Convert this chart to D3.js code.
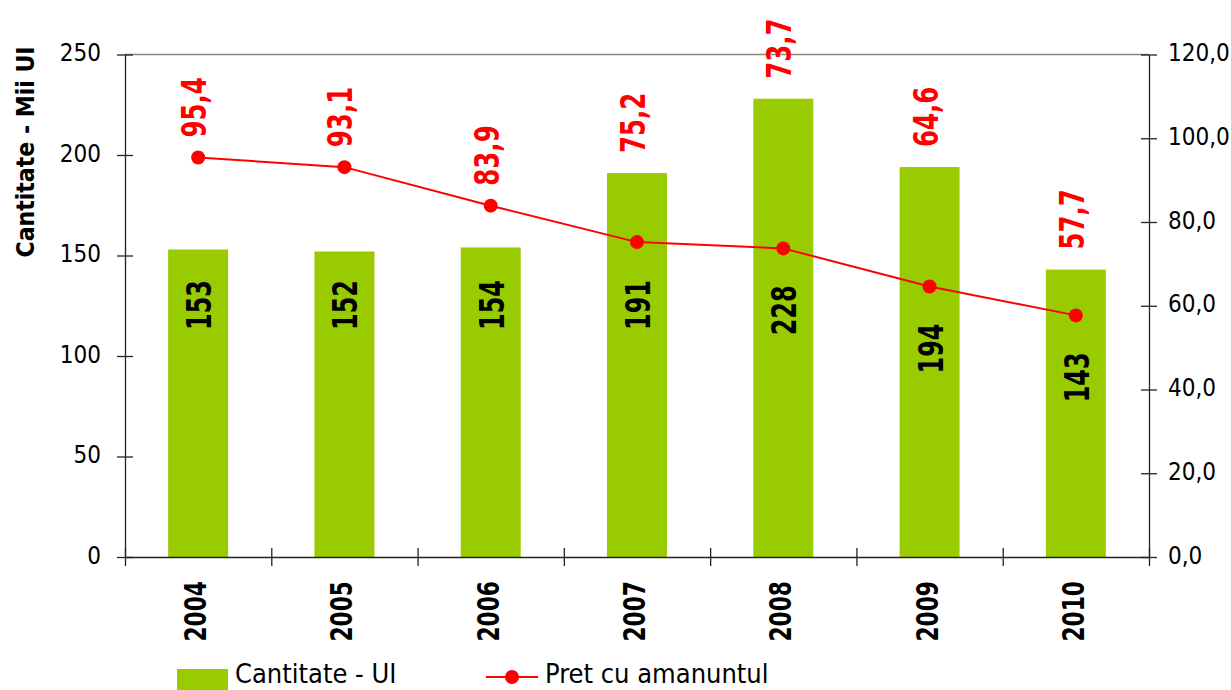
<!DOCTYPE html>
<meta charset="utf-8">
<style>
body { margin: 0; background: #fff; }
text { font-family: "DejaVu Sans Condensed", "DejaVu Sans", sans-serif; font-stretch: condensed; }
.axis path, .axis line { stroke: #222; stroke-width: 1.3; }
.axis text { font-size: 24px; fill: #000; }
</style>
<body>
<svg id="chart" width="1231" height="690"></svg>
<script src="https://d3js.org/d3.v7.min.js"></script>
<script>

var years = ["2004", "2005", "2006", "2007", "2008", "2009", "2010"];
var cantitate = [153, 152, 154, 191, 228, 194, 143];
var pret = [95.4, 93.1, 83.9, 75.2, 73.7, 64.6, 57.7];
var leftTicks = [0, 50, 100, 150, 200, 250];
var rightTicks = [0, 20, 40, 60, 80, 100, 120];

var svg = d3.select("#chart"),
    margin = {top: 54.5, left: 125, right: 82, bottom: 133},
    W = +svg.attr("width"), H = +svg.attr("height");

var x = d3.scaleBand().domain(years).range([margin.left, W - margin.right]).padding(0);
var y = d3.scaleLinear().domain([0, 250]).range([H - margin.bottom, margin.top]);
var y2 = d3.scaleLinear().domain([0, 120]).range([H - margin.bottom, margin.top]);
var bw = x.bandwidth() * 0.41;
var cx = function(d) { return x(d) + x.bandwidth() / 2; };
var fmt = function(v) { return v.toFixed(1).replace(".", ","); };

// top border
svg.append("line")
    .attr("x1", margin.left).attr("x2", W - margin.right)
    .attr("y1", margin.top).attr("y2", margin.top)
    .attr("stroke", "#888").attr("stroke-width", 1.3);

// bars
svg.append("g").selectAll("rect")
  .data(years)
  .enter().append("rect")
    .attr("x", function(d) { return cx(d) - bw / 2; })
    .attr("y", function(d, i) { return y(cantitate[i]); })
    .attr("width", bw)
    .attr("height", function(d, i) { return y(0) - y(cantitate[i]); })
    .attr("fill", "#99CC00");

// left axis
var gl = svg.append("g").attr("class", "axis")
    .attr("transform", "translate(" + margin.left + ",0)")
    .call(d3.axisLeft(y).tickValues(leftTicks).tickSize(8).tickSizeOuter(0).tickPadding(16));
gl.selectAll(".tick line").attr("x1", -8).attr("x2", 8);
gl.selectAll(".tick text").attr("dy", "0.25em");

// right axis
var gr = svg.append("g").attr("class", "axis")
    .attr("transform", "translate(" + (W - margin.right) + ",0)")
    .call(d3.axisRight(y2).tickValues(rightTicks).tickFormat(fmt).tickSize(8).tickSizeOuter(0).tickPadding(11));
gr.selectAll(".tick line").attr("x1", -8).attr("x2", 8);
gr.selectAll(".tick text").attr("dy", "0.25em");

// bottom axis with boundary ticks
var xb = d3.scaleLinear().domain([0, years.length]).range(x.range());
var gb = svg.append("g").attr("class", "axis")
    .attr("transform", "translate(0," + y(0) + ")")
    .call(d3.axisBottom(xb).ticks(years.length).tickFormat("").tickSize(9).tickSizeOuter(0));
gb.selectAll(".tick line").attr("y1", -9).attr("y2", 9);

// year labels
svg.append("g").selectAll("text")
  .data(years)
  .enter().append("text")
    .attr("transform", function(d) { return "translate(" + (cx(d) + 8) + "," + (y(0) + 24) + ") rotate(-90) scale(0.78,1)"; })
    .attr("text-anchor", "end")
    .attr("font-size", "31px")
    .attr("font-weight", "bold")
    .attr("fill", "#000")
    .text(function(d) { return d; });

// left axis title
svg.append("text")
    .attr("transform", "translate(34,152) rotate(-90)")
    .attr("text-anchor", "middle")
    .attr("font-size", "24.5px")
    .attr("font-weight", "bold")
    .attr("fill", "#000")
    .text("Cantitate - Mii UI");

// bar value labels
svg.append("g").selectAll("text")
  .data(years)
  .enter().append("text")
    .attr("transform", function(d, i) {
      var c = Math.max(305, y2(pret[i]) + 62);
      return "translate(" + (cx(d) + 13) + "," + c + ") rotate(-90) scale(0.78,1)";
    })
    .attr("text-anchor", "middle")
    .attr("font-size", "34px")
    .attr("font-weight", "bold")
    .attr("fill", "#000")
    .text(function(d, i) { return cantitate[i]; });

// price line
var line = d3.line()
    .x(function(d, i) { return cx(years[i]); })
    .y(function(d) { return y2(d); });

svg.append("path")
    .datum(pret)
    .attr("fill", "none")
    .attr("stroke", "#FF0000")
    .attr("stroke-width", 2)
    .attr("d", line);

svg.append("g").selectAll("circle")
  .data(pret)
  .enter().append("circle")
    .attr("cx", function(d, i) { return cx(years[i]); })
    .attr("cy", function(d) { return y2(d); })
    .attr("r", 7)
    .attr("fill", "#FF0000");

// price labels
svg.append("g").selectAll("text")
  .data(pret)
  .enter().append("text")
    .attr("transform", function(d, i) {
      var b = Math.min(y(cantitate[i]), y2(d)) - 20;
      return "translate(" + (cx(years[i]) + 8) + "," + b + ") rotate(-90) scale(0.8,1)";
    })
    .attr("text-anchor", "start")
    .attr("font-size", "34px")
    .attr("font-weight", "bold")
    .attr("fill", "#FF0000")
    .text(function(d) { return fmt(d); });

// legend
var lg = svg.append("g").attr("font-size", "27px");
lg.append("rect")
    .attr("x", 177).attr("y", 669).attr("width", 51).attr("height", 21)
    .attr("fill", "#99CC00");
lg.append("text").attr("x", 235).attr("y", 683).attr("fill", "#000").text("Cantitate - UI");
lg.append("line")
    .attr("x1", 486).attr("x2", 538).attr("y1", 677).attr("y2", 677)
    .attr("stroke", "#FF0000").attr("stroke-width", 2);
lg.append("circle").attr("cx", 512).attr("cy", 677).attr("r", 7).attr("fill", "#FF0000");
lg.append("text").attr("x", 545).attr("y", 683).attr("fill", "#000").text("Pret cu amanuntul");

</script>
</body>
